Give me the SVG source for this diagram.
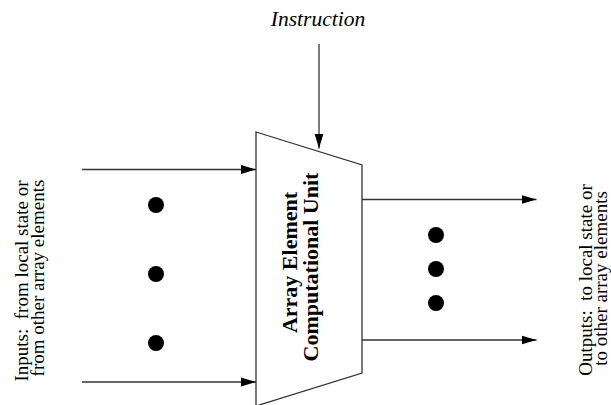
<svg xmlns="http://www.w3.org/2000/svg" width="611" height="405" viewBox="0 0 611 405">
<style>
.ln{stroke:#333;stroke-width:1.3;fill:none}
.side{font-family:"Liberation Serif",serif;font-size:19px;fill:#000;text-anchor:middle}
.unit{font-family:"Liberation Serif",serif;font-size:22px;font-weight:bold;fill:#000;text-anchor:middle}
.instr{font-family:"Liberation Serif",serif;font-size:21.5px;font-style:italic;fill:#000;text-anchor:middle}
.dot{fill:#000}
</style>
<defs>
<marker id="ah" markerWidth="15" markerHeight="10" refX="15" refY="5" orient="auto" markerUnits="userSpaceOnUse">
<path d="M0,0.5 L15,5 L0,9.5 Z" fill="#000"/>
</marker>
</defs>
<rect width="611" height="405" fill="#fff"/>
<g id="unit">
<path d="M256,132 L362,165 L362,373 L256,406 Z" fill="#fff" stroke="#333" stroke-width="1.3"/>
<text class="unit" transform="translate(297,262.5) rotate(-90)">Array Element</text>
<text class="unit" transform="translate(318,267) rotate(-90)">Computational Unit</text>
</g>
<g id="instruction">
<text class="instr" x="318" y="26">Instruction</text>
</g>
<g id="inputs">
<text class="side" transform="translate(28,281) rotate(-90)" xml:space="preserve">Inputs:  from local state or</text>
<text class="side" transform="translate(44,278) rotate(-90)">from other array elements</text>
</g>
<g id="outputs">
<text class="side" transform="translate(592,280) rotate(-90)" xml:space="preserve">Outputs:  to local state or</text>
<text class="side" transform="translate(607,278.5) rotate(-90)">to other array elements</text>
</g>
<g id="dots">
<circle class="dot" cx="156" cy="205" r="8"/>
<circle class="dot" cx="156" cy="274" r="8"/>
<circle class="dot" cx="156" cy="343" r="8"/>
<circle class="dot" cx="436" cy="235" r="8"/>
<circle class="dot" cx="436" cy="269" r="8"/>
<circle class="dot" cx="436" cy="303" r="8"/>
</g>
<g id="connectors">
<line class="ln" x1="319" y1="44" x2="319" y2="148.5" marker-end="url(#ah)"/>
<line class="ln" x1="82" y1="169.5" x2="256" y2="169.5" marker-end="url(#ah)"/>
<line class="ln" x1="82" y1="382" x2="256" y2="382" marker-end="url(#ah)"/>
<line class="ln" x1="362" y1="199.5" x2="536.5" y2="199.5" marker-end="url(#ah)"/>
<line class="ln" x1="362" y1="340" x2="536.5" y2="340" marker-end="url(#ah)"/>
</g>
</svg>
